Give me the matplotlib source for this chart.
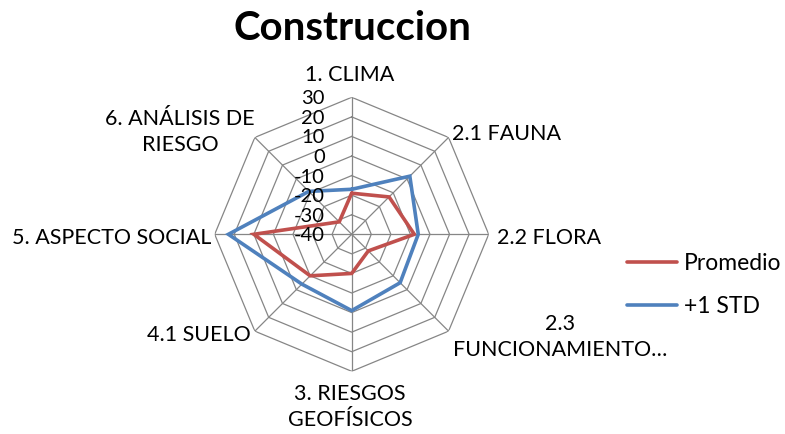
import numpy as np
import matplotlib
matplotlib.use("Agg")
import matplotlib.pyplot as plt

categories = ["1. CLIMA", "2.1 FAUNA", "2.2 FLORA", "2.3\nFUNCIONAMIENTO…",
              "3. RIESGOS\nGEOFÍSICOS", "4.1 SUELO", "5. ASPECTO SOCIAL",
              "6. ANÁLISIS DE\nRIESGO"]
promedio = [-19, -13, -8, -28, -20, -10, 10, -31]
std_plus = [-17, 2, -6, -5, -1, -4, 23, -9]
ticks = [-40, -30, -20, -10, 0, 10, 20, 30]
title = "Construccion"

W, H = 785, 434
plt.rcParams['font.family'] = ['Lato', 'DejaVu Sans']
fig = plt.figure(figsize=(W / 100, H / 100), dpi=100)

cx, cy, R = 351.7, 234.3, 137.0
ax = fig.add_axes([(cx - R) / W, (H - cy - R) / H, 2 * R / W, 2 * R / H],
                  projection='polar')
ax.set_theta_zero_location('N')
ax.set_theta_direction(-1)
ax.set_ylim(ticks[0], ticks[-1])
ax.axis('off')

n = len(categories)
theta = np.arange(n) * 2 * np.pi / n
theta_c = np.append(theta, theta[0])
grid_col = '#868686'
for t in ticks[1:]:
    ax.plot(theta_c, [t] * (n + 1), color=grid_col, lw=0.9, zorder=1)
for th in theta:
    ax.plot([th, th], [ticks[0], ticks[-1]], color=grid_col, lw=0.9, zorder=1)

red = '#C0504D'
blue = '#4F81BD'
l1, = ax.plot(theta_c, promedio + promedio[:1], color=red, lw=2.6, zorder=3,
              label='Promedio', solid_capstyle='round', solid_joinstyle='miter')
l2, = ax.plot(theta_c, std_plus + std_plus[:1], color=blue, lw=2.6, zorder=3,
              label='+1 STD', solid_capstyle='round', solid_joinstyle='miter')

fs = 15.5
# radial tick labels
for i, t in enumerate(ticks):
    y = cy - i * R / (len(ticks) - 1)
    fig.text(325 / W, 1 - (y + 1.5) / H, str(t), ha='right', va='center',
             fontsize=14.5)

# category labels (pixel positions)
pos = [(350, 75, 'center'), (452, 134, 'left'), (497, 238, 'left'),
       (560, 337, 'center'), (350, 407, 'center'), (251, 335, 'right'),
       (211, 238, 'right'), (180, 132, 'center')]
for lab, (x, y, ha) in zip(categories, pos):
    fig.text(x / W, 1 - y / H, lab, ha=ha, va='center', fontsize=fs,
             linespacing=1.38)

fig.text(352 / W, 1 - 28 / H, title, ha='center', va='center',
         fontsize=29, fontweight='bold')

lfs = 16.5
fig.legend(handles=[l1, l2], loc='center left',
           bbox_to_anchor=(627 / W, 1 - 285 / H), frameon=False, borderpad=0,
           borderaxespad=0, fontsize=lfs, handlelength=2.2, labelspacing=0.95,
           handletextpad=0.28)

fig.savefig('out.png', dpi=100)
